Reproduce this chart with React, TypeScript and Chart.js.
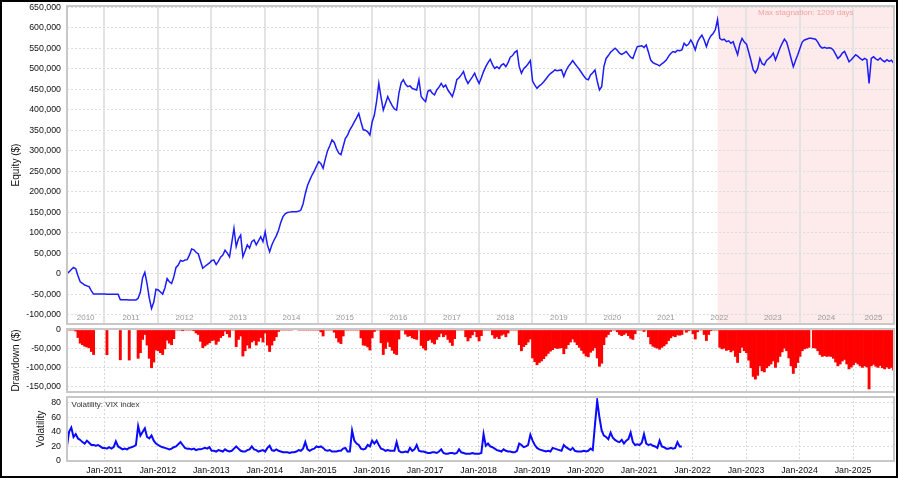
import React, { useEffect, useRef } from "react";
import { Chart, registerables } from "chart.js";

Chart.register(...registerables);

const FONT = '"Liberation Sans", Arial, sans-serif';

// ---- time axis ----
const X_MIN = 2010.303;
const X_MAX = 2025.766;
const SERIES_START = 2010.3;
const SAMPLES_PER_YEAR = 24; // semi-monthly samples

// ---- equity curve, $ thousands, semi-monthly ----
const equity2010 = [0, 4, 10, 15, 12, -5, -20, -24, -28, -30, -32, -42, -50, -50, -50, -50, -50];
const equity2011 = [-50, -50.5, -50.5, -50.5, -50.5, -50.5, -50.5, -64, -64, -64, -64, -64.5, -64.5, -64.5, -64.5, -60, -45, -10, 3, -25, -60, -85, -70, -38];
const equity2012 = [-40, -45, -50, -35, -12, -20, -24, -8, 15, 21, 32, 30, 33, 34, 45, 60, 58, 52, 48, 30, 13, 18, 22, 26];
const equity2013 = [32, 33, 22, 30, 40, 45, 57, 50, 41, 75, 110, 66, 85, 94, 41, 55, 70, 62, 78, 82, 70, 80, 90, 78];
const equity2014 = [102, 70, 53, 70, 82, 92, 106, 125, 139, 146, 149, 150, 151, 151, 151, 152, 155, 170, 195, 215, 228, 240, 250, 262];
const equity2015 = [273, 268, 257, 280, 300, 312, 326, 320, 305, 294, 290, 310, 330, 338, 351, 360, 370, 380, 391, 370, 351, 350, 346, 338];
const equity2016 = [370, 387, 420, 464, 430, 399, 415, 432, 420, 410, 402, 399, 440, 465, 473, 462, 456, 458, 452, 450, 448, 473, 432, 425];
const equity2017 = [420, 445, 448, 440, 436, 448, 455, 464, 455, 460, 448, 440, 432, 450, 473, 478, 485, 493, 475, 464, 472, 480, 489, 475];
const equity2018 = [464, 478, 493, 505, 515, 523, 510, 501, 505, 500, 509, 512, 505, 515, 528, 532, 540, 544, 505, 489, 500, 505, 512, 520];
const equity2019 = [470, 460, 452, 458, 462, 468, 475, 482, 488, 492, 497, 495, 496, 497, 481, 495, 505, 512, 520, 512, 505, 498, 490, 482];
const equity2020 = [475, 473, 485, 490, 497, 470, 448, 456, 505, 525, 532, 540, 545, 550, 545, 538, 535, 538, 542, 535, 528, 525, 540, 554];
const equity2021 = [555, 556, 552, 558, 540, 521, 515, 512, 510, 507, 512, 516, 521, 530, 537, 542, 540, 545, 544, 546, 562, 556, 560, 570];
const equity2022 = [560, 546, 565, 575, 582, 570, 554, 570, 580, 586, 595, 620, 574, 570, 572, 566, 568, 562, 566, 550, 534, 560, 574, 565];
const equity2023 = [560, 540, 520, 497, 490, 500, 525, 512, 509, 520, 525, 530, 538, 521, 535, 550, 562, 572, 565, 546, 525, 505, 520, 534];
const equity2024 = [550, 565, 570, 572, 574, 574, 573, 572, 565, 555, 550, 552, 550, 551, 550, 545, 535, 525, 530, 538, 542, 530, 517, 522];
const equity2025 = [528, 534, 530, 525, 521, 525, 522, 464, 525, 529, 524, 521, 526, 520, 517, 522, 518, 521, 514];

// ---- VIX index, semi-monthly ----
const vix2010 = [19, 40, 46, 33, 37, 31, 29, 26, 24, 28, 25, 22, 22, 21, 22, 20, 18];
const vix2011 = [18, 17, 19, 17, 19, 27, 20, 18, 16, 17, 16, 18, 19, 20, 22, 48, 35, 40, 45, 33, 31, 35, 28, 24];
const vix2012 = [22, 20, 19, 18, 17, 16, 17, 19, 20, 23, 26, 22, 18, 17, 17, 16, 17, 15, 16, 16, 17, 18, 17, 19];
const vix2013 = [14, 14, 13, 15, 14, 13, 16, 14, 13, 14, 17, 20, 17, 14, 13, 13, 15, 16, 20, 16, 15, 13, 14, 15];
const vix2014 = [13, 18, 21, 15, 14, 16, 14, 13, 12, 12, 12, 11, 12, 12, 13, 15, 14, 17, 26, 16, 14, 16, 17, 20];
const vix2015 = [19, 20, 18, 15, 14, 15, 13, 13, 13, 14, 14, 17, 18, 13, 13, 42, 28, 24, 22, 17, 16, 17, 22, 20];
const vix2016 = [28, 24, 28, 22, 17, 16, 14, 15, 14, 14, 14, 26, 14, 12, 12, 13, 12, 18, 14, 16, 22, 14, 13, 13];
const vix2017 = [12, 11, 11, 12, 12, 11, 13, 16, 11, 10, 10, 11, 11, 10, 11, 16, 12, 11, 10, 10, 10, 11, 10, 10];
const vix2018 = [10, 11, 37, 21, 24, 20, 19, 17, 15, 14, 13, 16, 14, 13, 13, 12, 12, 14, 24, 22, 19, 20, 22, 36];
const vix2019 = [28, 22, 18, 16, 15, 14, 13, 14, 13, 18, 17, 16, 15, 14, 22, 19, 17, 15, 18, 14, 13, 13, 13, 14];
const vix2020 = [13, 14, 17, 15, 50, 83, 60, 42, 35, 33, 30, 39, 32, 29, 27, 26, 29, 24, 28, 30, 39, 26, 22, 23];
const vix2021 = [22, 25, 37, 24, 22, 23, 21, 20, 18, 28, 20, 19, 17, 17, 18, 17, 18, 26, 20, 20];

// ---- axes ----
const equityTicks = [650000, 600000, 550000, 500000, 450000, 400000, 350000, 300000, 250000, 200000, 150000, 100000, 50000, 0, -50000, -100000];
const drawdownTicks = [0, -50000, -100000, -150000];
const volatilityTicks = [0, 20, 40, 60, 80];
const janTicks = [2011, 2012, 2013, 2014, 2015, 2016, 2017, 2018, 2019, 2020, 2021, 2022, 2023, 2024, 2025];
const yearLabels = [2010, 2011, 2012, 2013, 2014, 2015, 2016, 2017, 2018, 2019, 2020, 2021, 2022, 2023, 2024, 2025];
const stagnationDays = 1209;

const equityK = [
  ...equity2010, ...equity2011, ...equity2012, ...equity2013, ...equity2014, ...equity2015,
  ...equity2016, ...equity2017, ...equity2018, ...equity2019, ...equity2020, ...equity2021,
  ...equity2022, ...equity2023, ...equity2024, ...equity2025,
];
const vix = [
  ...vix2010, ...vix2011, ...vix2012, ...vix2013, ...vix2014, ...vix2015,
  ...vix2016, ...vix2017, ...vix2018, ...vix2019, ...vix2020, ...vix2021,
];

const timeAt = (i: number) => SERIES_START + i / SAMPLES_PER_YEAR;

const equityPoints = equityK.map((v, i) => ({ x: timeAt(i), y: v * 1000 }));
const drawdownPoints = (() => {
  let peak = -Infinity;
  return equityK.map((v, i) => {
    peak = Math.max(peak, v);
    const traded = i === 0 || v !== equityK[i - 1];
    return { x: timeAt(i), y: traded ? (v - peak) * 1000 : null };
  });
})();
const vixPoints = vix.map((v, i) => ({ x: timeAt(i), y: v }));
const peakIndex = equityK.indexOf(Math.max(...equityK));
const stagnationStart = timeAt(peakIndex);

const fmtNum = (v: any) => Number(v).toLocaleString("en-US");

const panelFrame = {
  id: "panelFrame",
  afterDraw(chart: any) {
    const { ctx, chartArea: a } = chart;
    ctx.save();
    ctx.strokeStyle = "#c8c8c8";
    ctx.lineWidth = 2;
    ctx.strokeRect(a.left, a.top, a.right - a.left, a.bottom - a.top);
    ctx.restore();
  },
};

const equityDecor = {
  id: "equityDecor",
  beforeDraw(chart: any) {
    const { ctx, chartArea: a } = chart;
    const xs = chart.scales.x;
    const x0 = xs.getPixelForValue(stagnationStart);
    ctx.save();
    ctx.fillStyle = "#fdeaea";
    ctx.fillRect(x0, a.top, a.right - x0, a.bottom - a.top);
    ctx.restore();
  },
  afterDatasetsDraw(chart: any) {
    const { ctx, chartArea: a } = chart;
    const xs = chart.scales.x;
    ctx.save();
    ctx.textAlign = "center";
    ctx.textBaseline = "middle";
    ctx.font = `8px ${FONT}`;
    ctx.fillStyle = "#9a9a9a";
    for (const yr of yearLabels) {
      const lo = Math.max(yr, xs.min);
      const hi = Math.min(yr + 1, xs.max);
      if (hi <= lo) continue;
      ctx.fillText(String(yr), xs.getPixelForValue((lo + hi) / 2), a.bottom - 6.5);
    }
    const x0 = xs.getPixelForValue(stagnationStart);
    ctx.font = `8px ${FONT}`;
    ctx.fillStyle = "#f3a3a3";
    ctx.fillText(`Max stagnation: ${stagnationDays} days`, (x0 + a.right) / 2, a.top + 6.5);
    ctx.restore();
  },
};

const volDecor = {
  id: "volDecor",
  afterDatasetsDraw(chart: any) {
    const { ctx, chartArea: a } = chart;
    ctx.save();
    ctx.font = `8px ${FONT}`;
    ctx.fillStyle = "#333";
    ctx.textAlign = "left";
    ctx.textBaseline = "middle";
    ctx.fillText("Volatility: VIX index", a.left + 4.5, a.top + 8);
    ctx.restore();
  },
};

const xScale = (showLabels: boolean, solid: boolean) => ({
  type: "linear",
  min: X_MIN,
  max: X_MAX,
  offset: false,
  afterBuildTicks: (s: any) => {
    s.ticks = janTicks.map((v) => ({ value: v }));
  },
  afterFit: (s: any) => {
    s.height = showLabels ? 17 : 0;
    s.paddingLeft = 0;
    s.paddingRight = 0;
  },
  grid: { color: solid ? "#e3e3e3" : "#d8d8d8", lineWidth: solid ? 2 : 1, drawTicks: false, offset: false },
  border: { display: false, dash: solid ? [] : [2, 2] },
  ticks: {
    display: showLabels,
    autoSkip: false,
    maxRotation: 0,
    minRotation: 0,
    padding: 4,
    color: "#111",
    font: { family: FONT, size: 8.8 },
    callback: (v: any) => `Jan-${v}`,
  },
});

const yScale = (min: number, max: number, ticks: number[], title: string, titlePad: number) => ({
  type: "linear",
  min,
  max,
  afterBuildTicks: (s: any) => {
    s.ticks = ticks.map((v) => ({ value: v }));
  },
  afterFit: (s: any) => {
    s.width = 67;
    s.paddingTop = 0;
    s.paddingBottom = 0;
  },
  grid: { color: "#dcdcdc", lineWidth: 1, drawTicks: false },
  border: { display: false, dash: [2, 2] },
  ticks: { padding: 6, color: "#111", font: { family: FONT, size: 8.8 }, callback: fmtNum },
  title: {
    display: true,
    text: title,
    color: "#111",
    font: { family: FONT, size: 10 },
    padding: { top: titlePad, bottom: 0 },
  },
});

const baseOptions = (padding: any) => ({
  responsive: false,
  animation: false,
  devicePixelRatio: 1,
  events: [],
  layout: { padding },
  plugins: { legend: { display: false }, tooltip: { enabled: false }, title: { display: false } },
});

export default function App() {
  const eqRef = useRef<HTMLCanvasElement>(null);
  const ddRef = useRef<HTMLCanvasElement>(null);
  const volRef = useRef<HTMLCanvasElement>(null);

  useEffect(() => {
    const charts: Chart[] = [];
    charts.push(
      new Chart(eqRef.current as HTMLCanvasElement, {
        type: "line",
        data: {
          datasets: [
            {
              data: equityPoints,
              borderColor: "rgb(28,28,245)",
              borderWidth: 1.5,
              pointRadius: 0,
              tension: 0,
              fill: false,
            },
          ],
        },
        options: {
          ...baseOptions({ top: 6, bottom: 8, left: 0, right: 6 }),
          scales: {
            x: xScale(false, true),
            y: yScale(-123000, 653000, equityTicks, "Equity ($)", 10.7),
          },
        } as any,
        plugins: [equityDecor, panelFrame],
      })
    );
    charts.push(
      new Chart(ddRef.current as HTMLCanvasElement, {
        type: "bar",
        data: {
          datasets: [
            {
              data: drawdownPoints as any,
              backgroundColor: "#ff0000",
              borderWidth: 0,
              barPercentage: 1,
              categoryPercentage: 1,
            },
          ],
        },
        options: {
          ...baseOptions({ top: 9, bottom: 8, left: 0, right: 6 }),
          scales: {
            x: xScale(false, false),
            y: yScale(-164000, 2600, drawdownTicks, "Drawdown ($)", 10.7),
          },
        } as any,
        plugins: [panelFrame],
      })
    );
    charts.push(
      new Chart(volRef.current as HTMLCanvasElement, {
        type: "line",
        data: {
          datasets: [
            {
              data: vixPoints,
              borderColor: "rgb(10,10,255)",
              borderWidth: 2,
              pointRadius: 0,
              tension: 0,
              fill: false,
            },
          ],
        },
        options: {
          ...baseOptions({ top: 7, bottom: 0, left: 0, right: 6 }),
          scales: {
            x: xScale(true, false),
            y: yScale(0, 88, volatilityTicks, "Volatility", 34.8),
          },
        } as any,
        plugins: [volDecor, panelFrame],
      })
    );
    return () => charts.forEach((c) => c.destroy());
  }, []);

  const canvasStyle = (top: number, height: number): React.CSSProperties => ({
    position: "absolute",
    left: 0,
    top,
    width: 900,
    height,
  });

  return (
    <div style={{ position: "absolute", left: 0, top: 0, width: 900, height: 478, background: "#fff", overflow: "hidden" }}>
      <canvas ref={eqRef} width={900} height={332} style={canvasStyle(0, 332)} />
      <canvas ref={ddRef} width={900} height={80} style={canvasStyle(320, 80)} />
      <canvas ref={volRef} width={900} height={88} style={canvasStyle(390, 88)} />
      <div
        style={{
          position: "absolute",
          left: 0,
          top: 0,
          width: 898,
          height: 478,
          border: "2px solid #000",
          boxSizing: "border-box",
          pointerEvents: "none",
        }}
      />
    </div>
  );
}
